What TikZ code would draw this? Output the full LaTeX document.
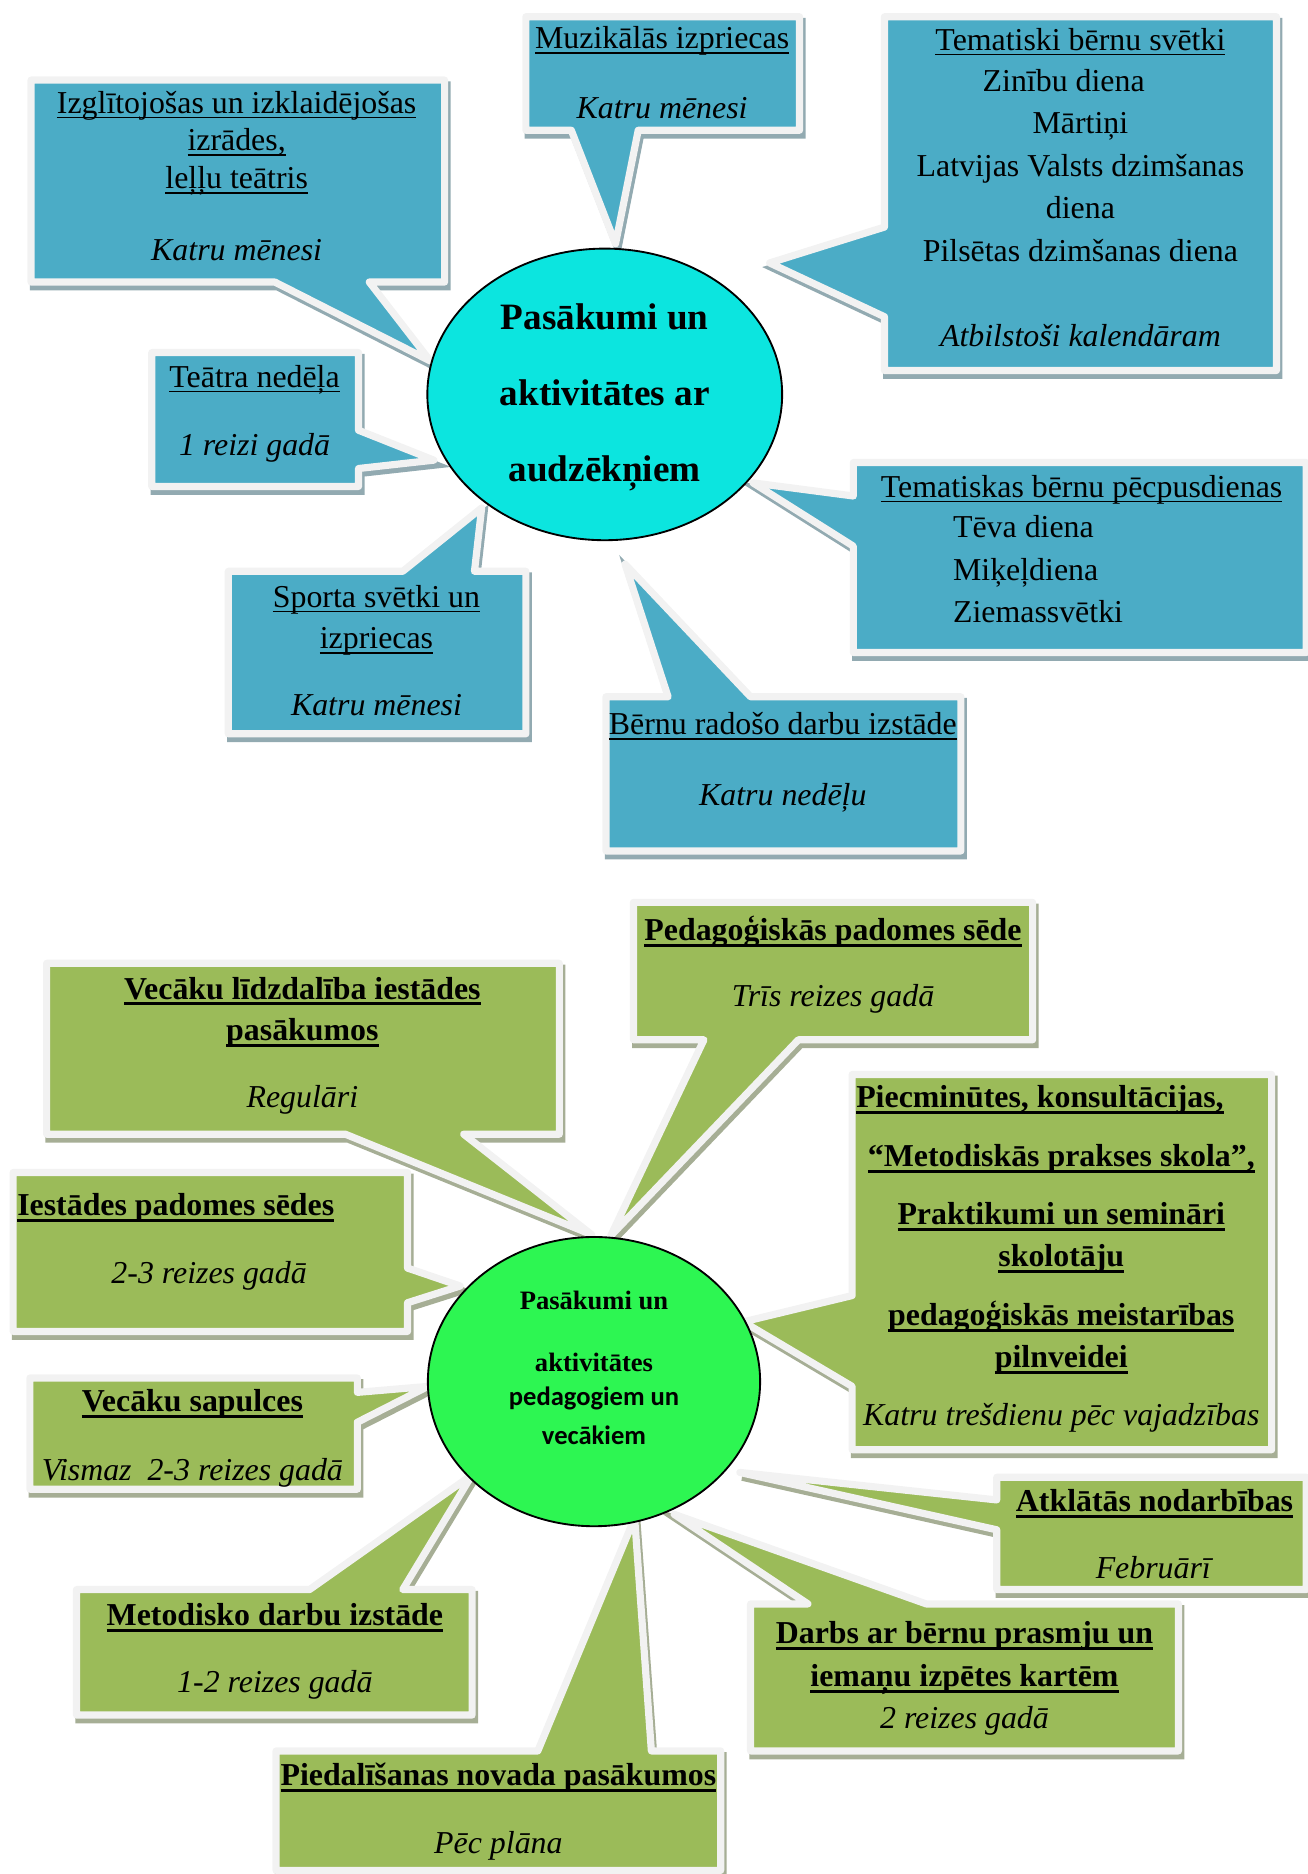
\documentclass[tikz,border=0pt]{standalone}
\usepackage{fontspec}
\setmainfont{Liberation Serif}
\newfontfamily\calfont{Carlito}
\usetikzlibrary{shapes.geometric}
\definecolor{calblue}{HTML}{4BACC6}
\definecolor{calgreen}{HTML}{9BBB59}
\definecolor{calrim}{HTML}{F2F2F2}
\definecolor{blueshade}{HTML}{92AAB1}
\definecolor{greenshade}{HTML}{A6AE95}
\definecolor{topcyan}{HTML}{0CE5DF}
\definecolor{botgreen}{HTML}{2DF652}
\newcommand\uln[1]{\leavevmode\setbox0\hbox{#1}\rlap{\rule[-1.9pt]{\wd0}{0.55pt}}\box0}
\newcommand\ulb[1]{\leavevmode\setbox0\hbox{\bfseries #1}\rlap{\rule[-2.4pt]{\wd0}{1.1pt}}\box0}
\tikzset{
  call/.style={draw=calrim, line width=2.7pt, line join=round,
    preaction={fill=#1, draw=#1, line width=2.7pt, transform canvas={shift={(0.9pt,-1.8pt)}}}},
  blue call/.style={call=blueshade, fill=calblue},
  green call/.style={call=greenshade, fill=calgreen},
  txt/.style={inner sep=0pt, text height=11pt, text depth=3pt, font=\fontsize{12}{14}\selectfont},
  top oval/.style={ellipse, draw, line width=0.7pt, fill=topcyan, minimum width=133.6pt, minimum height=109.8pt, inner sep=0pt},
  bot oval/.style={ellipse, draw, line width=0.7pt, fill=botgreen, minimum width=125.1pt, minimum height=108.9pt, inner sep=0pt}
}
\begin{document}
\begin{tikzpicture}[x=0.45pt, y=-0.45pt]
\useasboundingbox (0,0) rectangle (1094,1568);

\foreach \n/\x/\y in {izgl/360/302, muz/515/204, temat/644/220, teatra/363/385, sporta/403/425,
    bernu/523/472, tpec/630/404, vec/495/1033, ped/511/1034, piec/622/1106, iest/385/1076,
    vsap/358/1160, met/395/1234, pied/531/1270, atkl/619/1232, darbs/564/1267}
  \coordinate (\n-tip) at (\x,\y);

\draw[blue call] (26,67) -- (372,67) -- (372,236) -- (309,236) -- (izgl-tip) -- (230,236) -- (26,236) -- cycle;
\draw[blue call] (440,14) -- (669,14) -- (669,109) -- (534,109) -- (muz-tip) -- (478,109) -- (440,109) -- cycle;
\draw[blue call] (740,14) -- (1068,14) -- (1068,310) -- (740,310) -- (740,265) -- (temat-tip) -- (740,190) -- cycle;
\draw[blue call] (127,295) -- (300,295) -- (300,360) -- (teatra-tip) -- (300,392) -- (300,407) -- (127,407) -- cycle;
\draw[blue call] (191,478) -- (337,478) -- (sporta-tip) -- (397,478) -- (440,478) -- (440,614) -- (191,614) -- cycle;
\draw[blue call] (507,583) -- (559,583) -- (bernu-tip) -- (628,583) -- (804,583) -- (804,712) -- (507,712) -- cycle;
\draw[blue call] (714,387) -- (1093,387) -- (1093,546) -- (714,546) -- (714,457) -- (tpec-tip) -- (714,415) -- cycle;

\draw[green call] (39,806) -- (468,806) -- (468,949) -- (388,949) -- (vec-tip) -- (289,949) -- (39,949) -- cycle;
\draw[green call] (530,755) -- (864,755) -- (864,870) -- (668,870) -- (ped-tip) -- (589,870) -- (530,870) -- cycle;
\draw[green call] (713,899) -- (1064,899) -- (1064,1213) -- (713,1213) -- (713,1160) -- (piec-tip) -- (713,1084) -- cycle;
\draw[green call] (11,981) -- (341,981) -- (341,1061) -- (iest-tip) -- (341,1090) -- (341,1114) -- (11,1114) -- cycle;
\draw[green call] (25,1153) -- (299,1153) -- (299,1165) -- (vsap-tip) -- (299,1190) -- (299,1246) -- (25,1246) -- cycle;
\draw[green call] (64,1330) -- (259,1330) -- (met-tip) -- (337,1330) -- (395,1330) -- (395,1435) -- (64,1435) -- cycle;
\draw[green call] (231,1465) -- (450,1465) -- (pied-tip) -- (545,1465) -- (603,1465) -- (603,1565) -- (231,1565) -- cycle;
\draw[green call] (834,1236) -- (1093,1236) -- (1093,1330) -- (834,1330) -- (834,1280) -- (atkl-tip) -- (834,1255) -- cycle;
\draw[green call] (628,1342) -- (676,1342) -- (darbs-tip) -- (775,1342) -- (986,1342) -- (986,1465) -- (628,1465) -- cycle;

\node[top oval] (pas-top) at (506,330) {};
\node[bot oval] (pas-bot) at (497,1156) {};

\foreach \t/\y [count=\i] in {Pasākumi un/265, aktivitātes ar/329, audzēkņiem/392}
  \node[txt, text height=13pt, text depth=3.5pt, font=\fontsize{14}{16}\selectfont\bfseries] (pas-top-\i) at (506,\y) {\t};
\foreach \t/\y [count=\i] in {Pasākumi un/1087, aktivitātes/1139}
  \node[txt, text height=10pt, text depth=2.5pt, font=\fontsize{10}{12}\selectfont\bfseries] (pas-bot-\i) at (497,\y) {\t};
\foreach \t/\y [count=\i from 3] in {pedagogiem un/1168, vecākiem/1200}
  \node[txt, text height=10pt, text depth=2.5pt, font=\fontsize{10}{12}\selectfont\calfont\bfseries] (pas-bot-\i) at (497,\y) {\t};

\foreach \t/\x/\y [count=\i] in {{\uln{Izglītojošas un izklaidējošas}}/198/86, {\uln{izrādes,}}/198/117,
    {\uln{leļļu teātris}}/198/149, {\textit{Katru mēnesi}}/198/209}
  \node[txt] (izgl-\i) at (\x,\y) {\t};
\foreach \t/\x/\y [count=\i] in {{\uln{Muzikālās izpriecas}}/554/32, {\textit{Katru mēnesi}}/554/90}
  \node[txt] (muz-\i) at (\x,\y) {\t};
\foreach \t/\x/\y [count=\i] in {{\uln{Tematiski bērnu svētki}}/904/33, Zinību diena/890/68, Mārtiņi/904/103,
    Latvijas Valsts dzimšanas/904/139, diena/904/174, Pilsētas dzimšanas diena/904/210,
    {\textit{Atbilstoši kalendāram}}/904/281}
  \node[txt] (temat-\i) at (\x,\y) {\t};
\foreach \t/\x/\y [count=\i] in {{\uln{Teātra nedēļa}}/213/315, {\textit{1 reizi gadā}}/213/372}
  \node[txt] (teatra-\i) at (\x,\y) {\t};
\foreach \t/\x/\y [count=\i] in {{\uln{Sporta svētki un}}/315/499, {\uln{izpriecas}}/315/534,
    {\textit{Katru mēnesi}}/315/590}
  \node[txt] (sporta-\i) at (\x,\y) {\t};
\foreach \t/\x/\y [count=\i] in {{\uln{Bērnu radošo darbu izstāde}}/655/606, {\textit{Katru nedēļu}}/655/665}
  \node[txt] (bernu-\i) at (\x,\y) {\t};
\node[txt] (tpec-1) at (905,407) {\uln{Tematiskas bērnu pēcpusdienas}};
\foreach \t/\y [count=\i from 2] in {Tēva diena/441, Miķeļdiena/477, Ziemassvētki/512}
  \node[txt, anchor=west] (tpec-\i) at (797,\y) {\t};

\foreach \t/\x/\y [count=\i] in {{\ulb{Vecāku līdzdalība iestādes}}/253/827, {\ulb{pasākumos}}/253/862,
    {\textit{Regulāri}}/253/918}
  \node[txt] (vec-\i) at (\x,\y) {\t};
\foreach \t/\x/\y [count=\i] in {{\ulb{Pedagoģiskās padomes sēde}}/697/778, {\textit{Trīs reizes gadā}}/697/833}
  \node[txt] (ped-\i) at (\x,\y) {\t};
\node[txt, anchor=west] (piec-1) at (716,918) {\ulb{Piecminūtes, konsultācijas,}};
\foreach \t/\y [count=\i from 2] in {{\ulb{“Metodiskās prakses skola”,}}/967, {\ulb{Praktikumi un semināri}}/1016,
    {\ulb{skolotāju}}/1051, {\ulb{pedagoģiskās meistarības}}/1100, {\ulb{pilnveidei}}/1135,
    {\textit{Katru trešdienu pēc vajadzības}}/1184}
  \node[txt] (piec-\i) at (888,\y) {\t};
\node[txt, anchor=west] (iest-1) at (14,1008) {\ulb{Iestādes padomes sēdes}};
\node[txt] (iest-2) at (175,1065) {\textit{2-3 reizes gadā}};
\foreach \t/\x/\y [count=\i] in {{\ulb{Vecāku sapulces}}/161/1172, {\textit{Vismaz\ \ 2-3 reizes gadā}}/161/1230}
  \node[txt] (vsap-\i) at (\x,\y) {\t};
\foreach \t/\x/\y [count=\i] in {{\ulb{Metodisko darbu izstāde}}/230/1351, {\textit{1-2 reizes gadā}}/230/1407}
  \node[txt] (met-\i) at (\x,\y) {\t};
\foreach \t/\x/\y [count=\i] in {{\ulb{Piedalīšanas novada pasākumos}}/417/1485, {\textit{Pēc plāna}}/417/1542}
  \node[txt] (pied-\i) at (\x,\y) {\t};
\foreach \t/\x/\y [count=\i] in {{\ulb{Atklātās nodarbības}}/966/1256, {\textit{Februārī}}/966/1312}
  \node[txt] (atkl-\i) at (\x,\y) {\t};
\foreach \t/\x/\y [count=\i] in {{\ulb{Darbs ar bērnu prasmju un}}/807/1366, {\ulb{iemaņu izpētes kartēm}}/807/1402,
    {\textit{2 reizes gadā}}/807/1437}
  \node[txt] (darbs-\i) at (\x,\y) {\t};
\end{tikzpicture}
\end{document}
